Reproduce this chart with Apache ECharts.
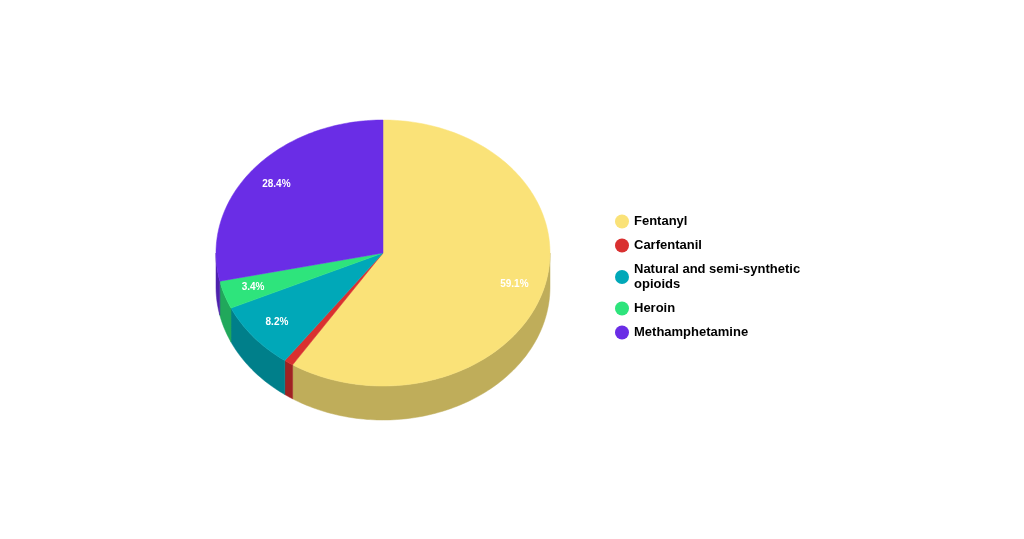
<!DOCTYPE html>
<html>
<head>
<meta charset="UTF-8">
<title>Pie</title>
<script src="https://cdn.jsdelivr.net/npm/echarts@6/dist/echarts.min.js"></script>
<style>html,body{margin:0;background:#fff}#chart{width:1024px;height:539px}</style>
</head>
<body>
<div id="chart"></div>
<script>
var names = ['Fentanyl', 'Carfentanil', 'Natural and semi-synthetic opioids', 'Heroin', 'Methamphetamine'];
var values = [59.1, 0.9, 8.2, 3.4, 28.4];
var topColors = ['#fae278', '#d93030', '#00a8b8', '#2ee47c', '#6a2de6'];
var sideColors = ['#bfad5a', '#a02222', '#007f8a', '#21a85b', '#4e21ad'];

// ellipse geometry
var cx = 383, cy = 253, rx = 167, ry = 133, depth = 34;

var total = values.reduce(function (a, b) { return a + b; }, 0);
var starts = [], acc = 0;
values.forEach(function (v) { starts.push(acc / total); acc += v; });

function pt(t, dy) {
    return [cx + rx * Math.sin(t), cy - ry * Math.cos(t) + (dy || 0)];
}

function arc(a, b, dy) {
    var pts = [], n = Math.max(2, Math.ceil((b - a) / 0.02));
    for (var i = 0; i <= n; i++) pts.push(pt(a + (b - a) * i / n, dy));
    return pts;
}

function renderSlice(idx) {
    return function (params, api) {
        var a = api.value(0) * 2 * Math.PI, b = api.value(1) * 2 * Math.PI;
        var children = [];
        // visible side wall: front half of the ellipse
        var sa = Math.max(a, Math.PI / 2), sb = Math.min(b, 3 * Math.PI / 2);
        if (sb > sa) {
            var up = arc(sa, sb, 0), down = arc(sa, sb, depth).reverse();
            children.push({
                type: 'polygon', shape: {points: up.concat(down)},
                style: {fill: sideColors[idx], stroke: sideColors[idx], lineWidth: 0.5}
            });
        }
        children.push({
            type: 'polygon', shape: {points: [[cx, cy]].concat(arc(a, b, 0))},
            style: {fill: topColors[idx], stroke: topColors[idx], lineWidth: 0.5}
        });
        var pct = values[idx] / total * 100;
        if (pct > 2) {
            var m = (a + b) / 2;
            children.push({
                type: 'text',
                x: cx + rx * 0.82 * Math.sin(m), y: cy - ry * 0.82 * Math.cos(m),
                style: {text: pct.toFixed(1) + '%', fill: '#fff', font: 'bold 10px "Liberation Sans", Arial',
                        align: 'center', verticalAlign: 'middle'}
            });
        }
        return {type: 'group', children: children};
    };
}

var series = names.map(function (name, i) {
    return {
        name: name, type: 'custom', coordinateSystem: 'none',
        itemStyle: {color: topColors[i]},
        renderItem: renderSlice(i),
        data: [[starts[i], starts[i] + values[i] / total, values[i]]]
    };
});

var chart = echarts.init(document.getElementById('chart'));
chart.setOption({
    animation: false,
    legend: {
        orient: 'vertical', left: 610, top: 209, icon: 'circle',
        itemWidth: 14, itemHeight: 14, itemGap: 9,
        data: names,
        formatter: function (n) { return n === names[2] ? 'Natural and semi-synthetic\nopioids' : n; },
        textStyle: {fontFamily: 'Liberation Sans, Arial', fontWeight: 'bold', fontSize: 13, color: '#000', lineHeight: 15}
    },
    series: series
});
</script>
</body>
</html>
